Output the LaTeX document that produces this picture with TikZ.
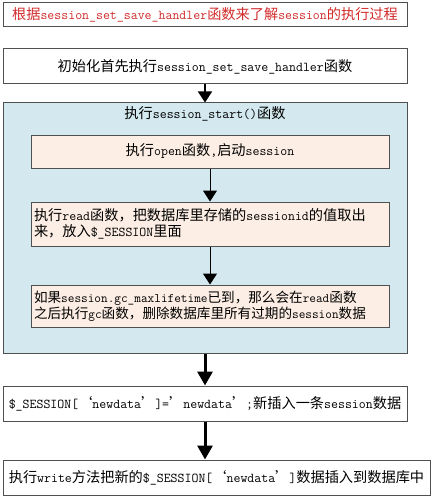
\documentclass[tikz,border=0pt]{standalone}
\usepackage{fontspec}
\newfontfamily\cjk{Noto Sans CJK SC}
\usetikzlibrary{arrows.meta}
\definecolor{startblue}{HTML}{D3E8EF}
\definecolor{stepfill}{HTML}{FCEEE4}
\definecolor{edgegray}{HTML}{505050}
\definecolor{titlered}{HTML}{D22A2A}
\newcommand\zhsize{14.2}
\newcommand\zh[1]{{\cjk\fontsize{\zhsize}{16}\selectfont #1}}
\newcommand\boxfont[1]{\renewcommand\zhsize{#1}\ttfamily\fontsize{\fpeval{0.95*#1}}{16}\selectfont}
\tikzset{
    box/.style={draw=edgegray, line width=1pt, minimum width=404pt, minimum height=35pt, inner sep=2pt, font=\boxfont{14.2}},
    stepbox/.style={box, fill=stepfill, minimum width=358pt},
    flow/.style={-{Triangle[width=14pt,length=11pt]}, line width=1pt},
    bigflow/.style={-{Triangle[width=15pt,length=14pt]}, line width=3pt}
}
\begin{document}
\begin{tikzpicture}[x=1pt,y=-1pt]
                \fill[white] (0,0) rectangle (439,500);
                \node[box, minimum height=24pt, text=titlered] (title) at (205,15) {\zh{根据}session\_set\_save\_handler\zh{函数来了解}session\zh{的执行过程}};
                \node[box] (init) at (205,66.5) {\zh{初始化首先执行}session\_set\_save\_handler\zh{函数}};
                \node[box, fill=startblue, minimum height=250pt] (start) at (205,228) {};
                \node[font=\boxfont{14.2}] (starttitle) at (205,114) {\zh{执行}session\_start()\zh{函数}};
                \node[stepbox, minimum height=33pt] (open) at (210,151.5) {\zh{执行}open\zh{函数},\zh{启动}session};
                \node[stepbox, minimum height=44pt, text width=352pt, align=left] (read) at (210,224) {\zh{执行}read\zh{函数，把数据库里存储的}sessionid\zh{的值取出}\\\zh{来，放入}\$\_SESSION\zh{里面}};
                \node[stepbox, minimum height=42pt, text width=352pt, align=left, font=\boxfont{13.6}] (gc) at (210,306) {\zh{如果}session.gc\_maxlifetime\zh{已到，那么会在}read\zh{函数}\\\zh{之后执行}gc\zh{函数，删除数据库里所有过期的}session\zh{数据}};
                \node[box] (newdata) at (205,403.5) {\$\_SESSION[\zh{‘}newdata\zh{’}]=\zh{’}newdata\zh{’};\zh{新插入一条}session\zh{数据}};
                \node[box, minimum width=427pt] (write) at (216.5,477.5) {\zh{执行}write\zh{方法把新的}\$\_SESSION[\zh{‘}newdata\zh{’}]\zh{数据插入到数据库中}};
                \draw[flow, line width=1.5pt] (init) -- (start);
                \draw[flow] (open) -- (read);
                \draw[flow] (read) -- (gc);
                \draw[bigflow] (start) -- (newdata);
                \draw[bigflow] (newdata.south) -- (newdata.south |- write.north);
\end{tikzpicture}
\end{document}
